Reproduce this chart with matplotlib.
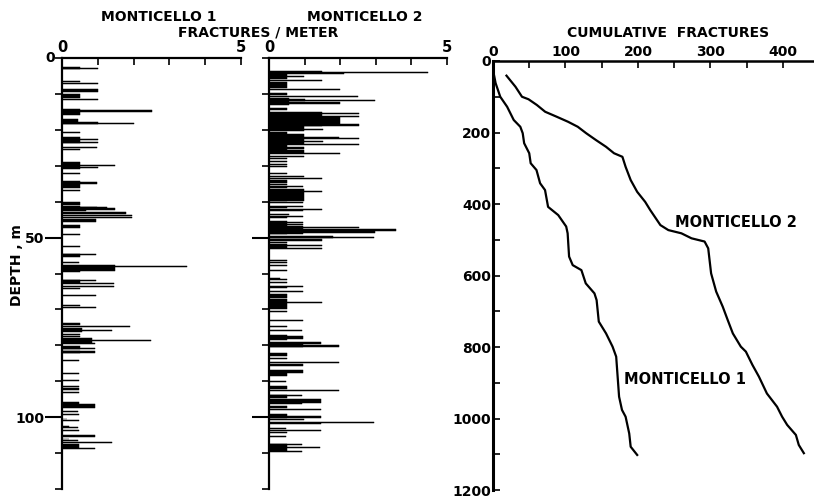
import numpy as np
import matplotlib
matplotlib.use("Agg")
import matplotlib.pyplot as plt
from matplotlib.ticker import MultipleLocator, FixedLocator

plt.rcParams["font.family"] = "DejaVu Sans"
plt.rcParams["font.weight"] = "bold"

# fracture intervals: (top m, base m, fractures per meter)
m1_bars = [
    (2.4, 3.0, 0.5), (2.9, 3.2, 1.0), (6.3, 6.6, 0.5), (6.9, 7.2, 1.0),
    (8.7, 9.5, 1.0), (10.0, 11.1, 0.5), (11.5, 11.8, 1.0),
    (14.1, 14.6, 0.5), (14.6, 14.9, 2.52), (15.1, 15.9, 0.5),
    (17.0, 17.7, 0.45), (17.7, 18.3, 1.0), (18.2, 18.5, 2.0), (20.5, 20.8, 0.5),
    (22.1, 23.6, 0.5), (22.6, 22.9, 1.0), (23.5, 23.8, 1.0),
    (24.7, 25.0, 0.97), (25.4, 25.7, 0.5),
    (28.9, 30.8, 0.5), (29.8, 30.1, 1.47), (30.4, 30.7, 1.0), (32.1, 32.4, 0.5),
    (34.2, 36.1, 0.5), (34.4, 35.2, 0.97), (36.8, 37.1, 0.5),
    (40.0, 40.9, 0.5), (41.2, 42.3, 0.5), (41.4, 41.7, 0.97), (41.6, 41.9, 1.25),
    (41.9, 42.2, 1.47), (42.4, 42.7, 0.67), (43.0, 43.3, 1.8), (43.7, 44.0, 1.96),
    (44.3, 44.6, 1.96), (44.9, 45.8, 0.95), (46.5, 47.2, 0.5), (49.1, 49.4, 0.5),
    (52.3, 52.6, 0.5), (54.5, 55.4, 0.5), (54.5, 54.8, 0.95), (56.7, 57.0, 0.48),
    (57.6, 59.3, 1.47), (58.0, 58.3, 3.5), (58.8, 59.5, 0.5),
    (61.8, 62.7, 0.5), (61.9, 62.2, 0.95), (62.7, 63.0, 1.44), (63.4, 63.7, 1.44),
    (64.0, 64.3, 0.5), (66.0, 66.3, 0.95), (68.8, 69.1, 0.5), (69.2, 69.5, 0.95),
    (73.8, 74.4, 0.5), (74.6, 74.9, 1.9), (75.3, 76.2, 0.55), (75.8, 76.1, 1.41),
    (76.8, 77.1, 0.5), (77.4, 77.7, 0.5), (78.0, 79.3, 0.85), (78.6, 78.9, 2.49),
    (79.3, 79.6, 0.93), (80.2, 81.1, 0.5), (80.8, 81.1, 0.93), (81.7, 82.0, 0.93),
    (81.6, 82.2, 0.5), (84.1, 84.4, 0.48), (87.6, 87.9, 0.48), (89.7, 90.0, 0.48),
    (91.3, 91.6, 0.48), (92.0, 92.3, 0.48), (93.1, 93.4, 0.48),
    (95.8, 96.9, 0.48), (96.2, 97.4, 0.93), (98.3, 98.6, 0.46), (99.1, 99.4, 0.48),
    (100.4, 100.6, 0.15), (100.8, 101.1, 0.48), (102.4, 102.6, 0.2),
    (102.8, 103.1, 0.46), (103.5, 103.8, 0.48), (105.1, 105.4, 0.92),
    (106.0, 106.2, 0.2), (106.3, 106.7, 0.46), (106.9, 107.2, 1.41),
    (107.6, 108.5, 0.48), (108.7, 109.0, 0.92),
]

m2_bars = [
    (3.6, 3.9, 1.5), (3.9, 4.2, 4.48), (4.2, 4.5, 2.1), (4.0, 5.9, 0.5),
    (5.0, 5.3, 0.97), (6.1, 6.4, 1.5), (6.6, 8.3, 0.5), (8.6, 8.9, 2.0),
    (9.7, 10.2, 0.5), (10.6, 10.9, 2.49), (11.0, 13.0, 0.55), (11.3, 11.9, 1.0),
    (11.8, 12.1, 2.97), (12.3, 12.8, 2.0), (13.8, 14.4, 0.5), (14.9, 19.0, 1.5),
    (15.2, 15.5, 2.52), (16.2, 16.5, 2.52), (16.3, 18.6, 2.0), (18.5, 18.8, 2.52),
    (19.0, 20.4, 0.97), (19.8, 20.1, 1.52), (20.7, 26.1, 0.5), (21.1, 22.0, 0.97),
    (22.0, 22.3, 1.96), (22.2, 22.5, 2.52), (23.1, 23.4, 1.52), (22.5, 24.0, 0.97),
    (24.0, 24.3, 2.52), (24.9, 25.2, 0.97), (25.6, 26.4, 0.97), (26.5, 26.8, 2.0),
    (27.3, 27.6, 0.97), (27.9, 28.2, 0.5), (28.7, 29.0, 0.5), (29.5, 29.8, 0.5),
    (30.0, 30.3, 0.5), (31.9, 32.4, 0.5), (32.8, 33.1, 0.97), (33.4, 33.7, 1.49),
    (34.1, 34.4, 0.5), (34.6, 34.9, 0.5), (35.0, 35.3, 0.5), (35.5, 35.8, 0.95),
    (36.0, 36.3, 0.5), (36.6, 39.7, 0.97), (36.9, 37.2, 1.49), (37.5, 39.7, 0.5),
    (40.2, 40.5, 0.95), (41.1, 41.4, 0.95), (41.4, 41.8, 0.5), (42.0, 42.3, 1.49),
    (42.3, 42.6, 0.95), (43.4, 43.7, 0.55), (43.9, 44.2, 0.95), (44.3, 44.6, 0.5),
    (45.4, 49.1, 0.5), (45.7, 46.0, 0.95), (46.2, 46.5, 0.95), (46.8, 49.1, 0.95),
    (47.1, 47.4, 2.52), (47.7, 48.3, 3.57), (48.3, 48.6, 2.97), (49.5, 50.0, 1.81),
    (49.9, 50.2, 2.95), (50.5, 51.0, 1.5), (51.1, 51.4, 0.5), (51.9, 52.8, 0.5),
    (52.1, 52.4, 1.49), (53.0, 53.3, 1.49), (56.2, 56.5, 0.5), (56.9, 57.2, 0.5),
    (57.5, 57.8, 0.5), (59.0, 59.3, 0.5), (61.2, 61.4, 0.3), (61.6, 61.9, 0.5),
    (62.4, 62.7, 0.5), (63.4, 63.7, 0.95), (63.7, 64.0, 0.5), (64.8, 65.1, 0.95),
    (65.6, 66.7, 0.5), (67.2, 70.0, 0.5), (68.0, 68.3, 1.49), (70.5, 70.8, 0.5),
    (72.9, 73.2, 0.95), (74.5, 74.8, 0.5), (75.7, 76.0, 0.93), (77.0, 78.6, 0.5),
    (77.3, 77.6, 0.95), (77.8, 78.1, 0.95), (79.2, 79.5, 1.47), (79.3, 80.5, 0.95),
    (79.8, 80.1, 1.96), (80.1, 80.4, 1.96), (82.2, 83.0, 0.5), (83.6, 83.9, 0.5),
    (84.7, 85.0, 1.96), (85.3, 85.8, 0.95), (86.9, 87.6, 0.95), (87.6, 88.6, 0.5),
    (89.9, 90.2, 0.48), (91.3, 92.1, 0.5), (92.4, 92.7, 1.96), (93.7, 94.6, 0.5),
    (93.9, 94.2, 0.92), (94.9, 96.0, 1.47), (96.1, 96.4, 0.92), (96.9, 97.4, 0.5),
    (97.7, 98.0, 1.47), (99.2, 100.2, 0.5), (99.8, 100.1, 1.47), (100.5, 100.8, 0.97),
    (101.3, 101.6, 2.95), (101.6, 101.9, 1.47), (102.9, 103.2, 0.48),
    (103.5, 103.8, 1.47), (104.2, 104.5, 0.5), (105.2, 105.5, 0.48),
    (107.6, 109.5, 0.5), (107.5, 107.8, 0.93), (108.4, 108.7, 1.44), (109.4, 109.7, 0.93),
]

# cumulative fractures vs depth
m1_cum = [0, 3.6, 10, 19.5, 28.6, 37.7, 41, 43, 50, 52, 60, 65, 71.8, 76, 90, 101,
          103, 105, 110, 122, 128, 140, 143, 146, 156, 165, 170, 174, 178, 183, 188, 190, 199]
m1_cum_depth = [25, 62, 100, 128, 165, 184, 202, 230, 258, 286, 305, 342, 361, 408, 431, 463,
                482, 547, 571, 585, 622, 650, 669, 729, 762, 799, 827, 939, 976, 995, 1042, 1079, 1102]
m2_cum = [18.6, 31, 40, 49, 60.5, 72, 88, 103.6, 117, 128.6, 142, 156, 167, 178.6, 183, 190,
          199, 210, 217, 231, 242, 260, 274, 292, 297, 301, 308, 317, 324, 331, 342, 349,
          358, 367, 378, 392, 399, 406, 418, 422, 429]
m2_cum_depth = [41, 72, 100, 107, 123, 142, 156, 170, 184, 202, 221, 240, 258, 268, 296, 333,
                366, 394, 417, 459, 473, 482, 496, 505, 524, 594, 645, 687, 725, 762, 799, 813,
                850, 883, 930, 967, 995, 1018, 1046, 1074, 1097]

W, H = 814, 499
fig = plt.figure(figsize=(W / 100, H / 100), dpi=100)


def px(x0, y0, x1, y1):
    return [x0 / W, 1 - y1 / H, (x1 - x0) / W, (y1 - y0) / H]


def strip(ax, bars, labels):
    top = np.array([b[0] for b in bars])
    base = np.array([b[1] for b in bars])
    val = np.array([b[2] for b in bars])
    ax.barh((top + base) / 2, val, height=base - top, color="black",
            edgecolor="black", linewidth=0.35)
    ax.set_xlim(0, 5)
    ax.set_ylim(120, 0)
    for s in ["right", "bottom"]:
        ax.spines[s].set_visible(False)
    for s in ["left", "top"]:
        ax.spines[s].set_linewidth(1.6)
    ax.xaxis.tick_top()
    ax.set_xticks(range(6))
    ax.set_xticklabels(["0", "", "", "", "", "5"], fontsize=10.5, fontweight="bold")
    ax.tick_params(axis="x", direction="in", length=5, width=1.2, pad=2)
    ax.yaxis.set_major_locator(FixedLocator([50, 100]))
    ax.yaxis.set_minor_locator(MultipleLocator(10))
    ax.tick_params(axis="y", which="major", direction="out", length=12, width=1.5, pad=1)
    ax.tick_params(axis="y", which="minor", direction="out", length=5, width=1.2)
    if labels:
        ax.set_yticklabels(["50", "100"], fontsize=10, fontweight="bold")
        ax.text(-0.04, 1.0, "0", transform=ax.transAxes, ha="right", va="center",
                fontsize=10, fontweight="bold")
    else:
        ax.set_yticklabels([])


ax1 = fig.add_axes(px(62, 58, 241, 489))
strip(ax1, m1_bars, True)
ax2 = fig.add_axes(px(269, 58, 447, 489))
strip(ax2, m2_bars, False)

ax3 = fig.add_axes(px(493, 61, 814, 490))
ax3.plot(m1_cum, m1_cum_depth, color="black", lw=1.6)
ax3.plot(m2_cum, m2_cum_depth, color="black", lw=1.6)
ax3.set_xlim(0, 443)
ax3.set_ylim(1200, 0)
for s in ["right", "bottom"]:
    ax3.spines[s].set_visible(False)
ax3.spines["left"].set_linewidth(2.2)
ax3.spines["top"].set_linewidth(1.8)
ax3.xaxis.tick_top()
ax3.xaxis.set_major_locator(MultipleLocator(100))
ax3.xaxis.set_minor_locator(MultipleLocator(50))
ax3.yaxis.set_major_locator(MultipleLocator(200))
ax3.yaxis.set_minor_locator(MultipleLocator(100))
ax3.tick_params(axis="both", which="major", direction="in", length=5, width=1.2,
                labelsize=10, pad=1.5)
ax3.tick_params(axis="both", which="minor", direction="in", length=5, width=1.2)
for lab in ax3.get_xticklabels() + ax3.get_yticklabels():
    lab.set_fontweight("bold")
ax3.text(251, 452, "MONTICELLO 2", fontsize=10.5, fontweight="bold", va="center")
ax3.text(181, 890, "MONTICELLO 1", fontsize=10.5, fontweight="bold", va="center")

fig.text(159 / W, 1 - 17 / H, "MONTICELLO 1", ha="center", va="center",
         fontsize=10, fontweight="bold")
fig.text(365 / W, 1 - 17 / H, "MONTICELLO 2", ha="center", va="center",
         fontsize=10, fontweight="bold")
fig.text(258 / W, 1 - 33 / H, "FRACTURES / METER", ha="center", va="center",
         fontsize=10, fontweight="bold")
fig.text(668 / W, 1 - 33 / H, "CUMULATIVE  FRACTURES", ha="center", va="center",
         fontsize=10, fontweight="bold")
fig.text(17 / W, 1 - 265 / H, "DEPTH , m", ha="center", va="center", rotation=90,
         fontsize=10, fontweight="bold")

fig.savefig("out.png", dpi=100)
